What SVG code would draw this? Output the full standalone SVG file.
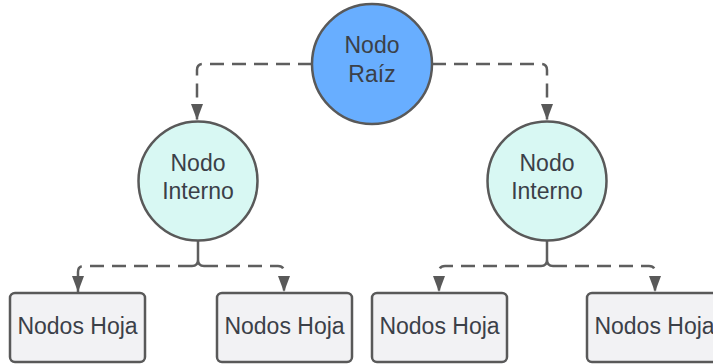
<svg xmlns="http://www.w3.org/2000/svg" width="713" height="364" viewBox="0 0 713 364">
  <style>
    .lbl { font-family: "Liberation Sans", Arial, sans-serif; font-size: 23px; fill: #3b4048; text-anchor: middle; }
    .root { fill: #68aeff; stroke: #595959; stroke-width: 2.5; }
    .inner { fill: #d8f8f3; stroke: #595959; stroke-width: 2.5; }
    .leaf { fill: #f2f2f4; stroke: #595959; stroke-width: 2.5; }
    .dash { fill: none; stroke: #5e5e5e; stroke-width: 2.5; stroke-dasharray: 14 8; marker-end: url(#arrow); }
    .solid { fill: none; stroke: #5e5e5e; stroke-width: 2.5; }
  </style>
  <defs>
    <marker id="arrow" markerUnits="userSpaceOnUse" viewBox="0 -6 16 12" refX="16" refY="0" markerWidth="16" markerHeight="12" orient="auto">
      <path d="M0,-6 L16,0 L0,6 Z" fill="#595959"/>
    </marker>
  </defs>
  <rect width="713" height="364" fill="#ffffff"/>

  <g id="connectors">
    <!-- root to inner nodes -->
    <path class="dash" d="M312 64 H203 Q197 64 197 70 V120"/>
    <path class="dash" d="M432 64 H541 Q547 64 547 70 V120"/>
    <!-- left inner node to leaves -->
    <path class="solid" d="M198 240 V260 Q198 266 192 266 M198 260 Q198 266 204 266"/>
    <path class="dash" d="M192 266 H84 Q78 266 78 272 V292"/>
    <path class="dash" d="M204 266 H278 Q284 266 284 272 V292"/>
    <!-- right inner node to leaves -->
    <path class="solid" d="M547 240 V260 Q547 266 541 266 M547 260 Q547 266 553 266"/>
    <path class="dash" d="M541 266 H445 Q439 266 439 272 V292"/>
    <path class="dash" d="M553 266 H649 Q655 266 655 272 V292"/>
  </g>

  <g id="root">
    <circle class="root" cx="372" cy="64" r="60"/>
    <text class="lbl" x="372" y="53">Nodo</text>
    <text class="lbl" x="372" y="82">Raíz</text>
  </g>

  <g id="inner-left">
    <circle class="inner" cx="198" cy="181" r="59.5"/>
    <text class="lbl" x="198" y="171">Nodo</text>
    <text class="lbl" x="198" y="199">Interno</text>
  </g>

  <g id="inner-right">
    <circle class="inner" cx="547" cy="181" r="59.5"/>
    <text class="lbl" x="547" y="171">Nodo</text>
    <text class="lbl" x="547" y="199">Interno</text>
  </g>

  <g id="leaf-1">
    <rect class="leaf" x="10" y="293" width="135" height="69" rx="5"/>
    <text class="lbl" x="77.5" y="334">Nodos Hoja</text>
  </g>
  <g id="leaf-2">
    <rect class="leaf" x="217" y="293" width="135" height="69" rx="5"/>
    <text class="lbl" x="284.5" y="334">Nodos Hoja</text>
  </g>
  <g id="leaf-3">
    <rect class="leaf" x="372" y="293" width="135" height="69" rx="5"/>
    <text class="lbl" x="439.5" y="334">Nodos Hoja</text>
  </g>
  <g id="leaf-4">
    <rect class="leaf" x="587" y="293" width="135" height="69" rx="5"/>
    <text class="lbl" x="654.5" y="334">Nodos Hoja</text>
  </g>
</svg>
